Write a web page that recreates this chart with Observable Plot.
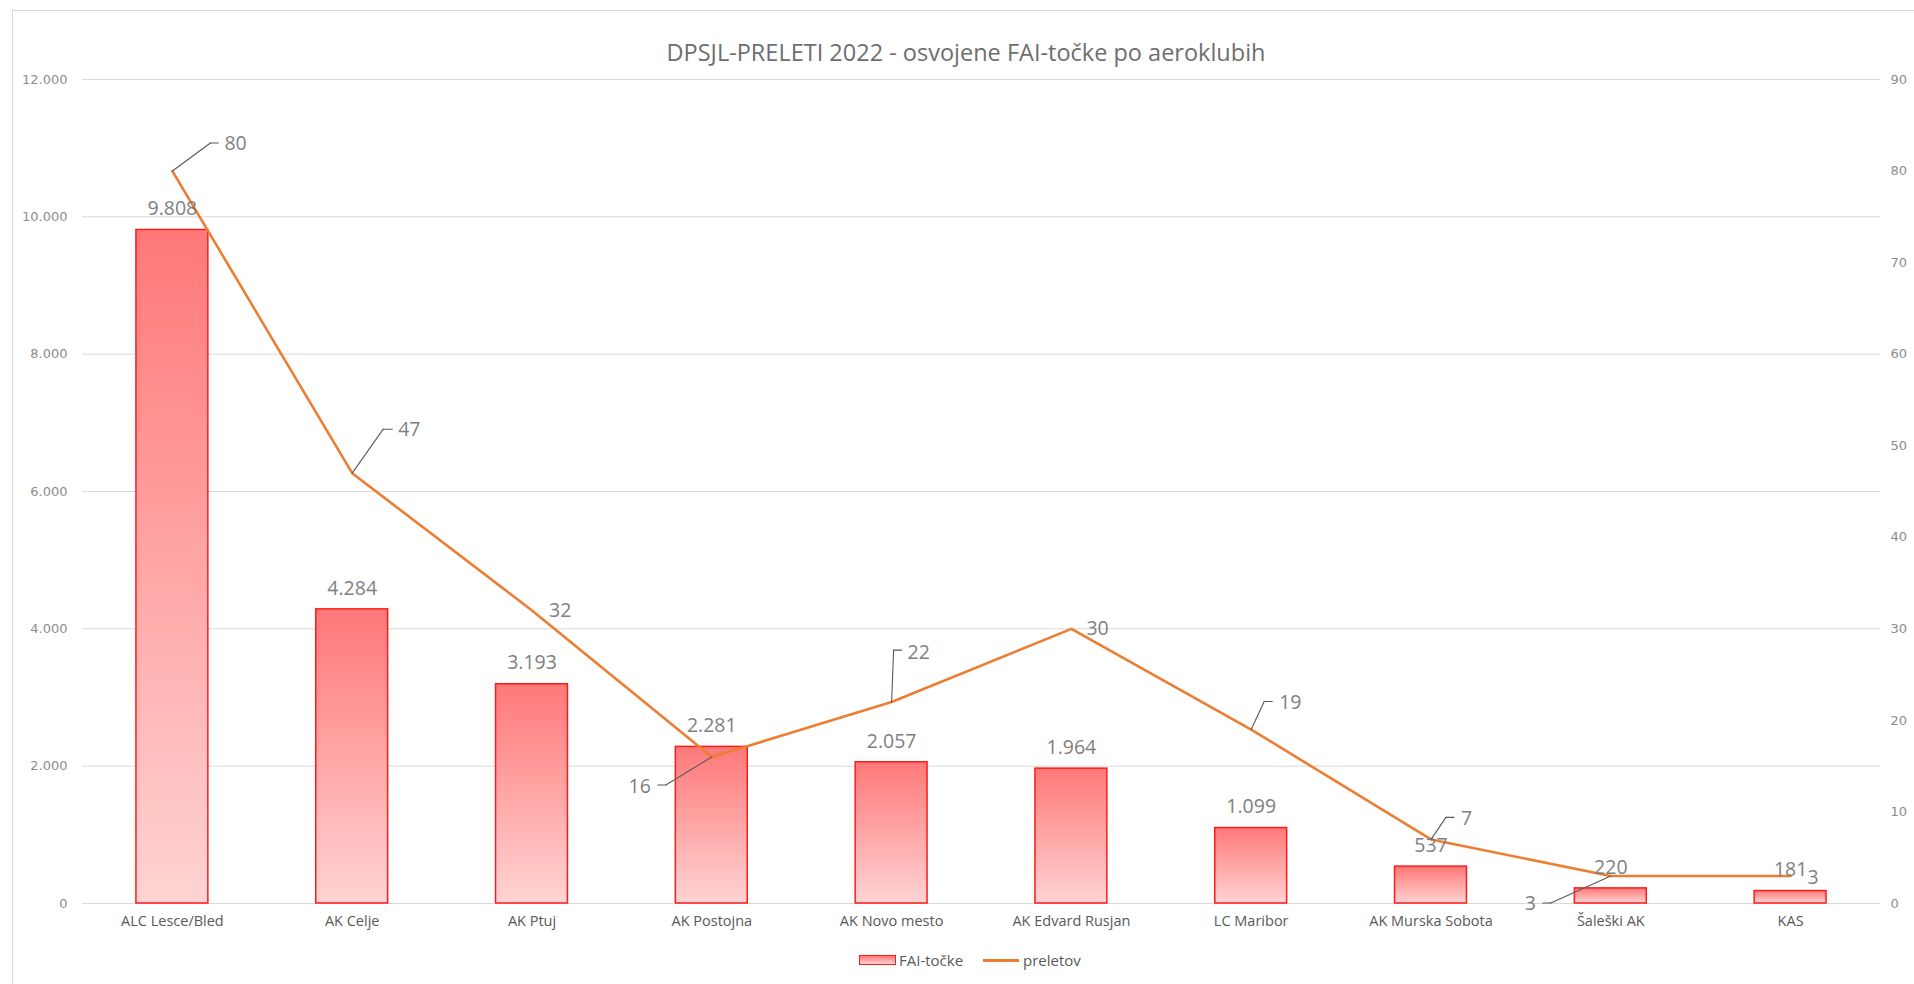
<!DOCTYPE html>
<html>
<head>
<meta charset="utf-8">
<script src="https://cdn.jsdelivr.net/npm/d3@7"></script>
<script src="https://cdn.jsdelivr.net/npm/@observablehq/plot@0.6"></script>
<style>
  html, body { margin: 0; padding: 0; background: #ffffff; }
  #root { position: relative; width: 1914px; height: 984px; overflow: hidden; font-family: "Open Sans", sans-serif; background: #fff; }
  #frame { position: absolute; left: 12px; top: 10px; width: 1910px; height: 980px; border: 1px solid #d9d9d9; box-sizing: border-box; }
  #title { position: absolute; left: 966px; top: 37px; transform: translateX(-50%); font-size: 23.5px; line-height: 30px; color: #6e6e6e; white-space: nowrap; }
  #chart { position: absolute; left: 0; top: 64px; }
  .legtext { position: absolute; top: 950px; line-height: 20px; font-size: 15px; color: #595959; white-space: nowrap; }
  #swBar { position: absolute; left: 859px; top: 955px; width: 37px; height: 10px; box-sizing: border-box; border: 1.5px solid #ff1a1a; background: linear-gradient(#ff7878, #ffd3d3); }
  #swLine { position: absolute; left: 983px; top: 959px; width: 36px; height: 2.5px; background: #ed7d31; }
</style>
</head>
<body>
<div id="root">
  <div id="frame"></div>
  <div id="title">DPSJL-PRELETI 2022 - osvojene FAI-točke po aeroklubih</div>
  <div id="chart"></div>
  <div id="swBar"></div>
  <div class="legtext" id="legA" style="left:899px"></div>
  <div id="swLine"></div>
  <div class="legtext" id="legB" style="left:1023px"></div>
</div>
<script>
// ---- data ----
const categories = ["ALC Lesce/Bled", "AK Celje", "AK Ptuj", "AK Postojna", "AK Novo mesto", "AK Edvard Rusjan", "LC Maribor", "AK Murska Sobota", "Šaleški AK", "KAS"];
const faiTocke = [9808, 4284, 3193, 2281, 2057, 1964, 1099, 537, 220, 181];
const preletov = [80, 47, 32, 16, 22, 30, 19, 7, 3, 3];
const leftTicks = [0, 2000, 4000, 6000, 8000, 10000, 12000];
const rightTicks = [0, 10, 20, 30, 40, 50, 60, 70, 80, 90];
const seriesNames = ["FAI-točke", "preletov"];

// ---- label layout (pixel offsets from each line point) ----
const lineLabelLayout = [
  {dx: 52, dy: -27, anchor: "start", elbow: [38, -28], tail: [46, -28]},
  {dx: 46, dy: -43, anchor: "start", elbow: [31, -44], tail: [40, -44]},
  {dx: 17, dy: 0, anchor: "start"},
  {dx: -61, dy: 30, anchor: "end", elbow: [-46, 28], tail: [-54, 28]},
  {dx: 16, dy: -49, anchor: "start", elbow: [2, -52], tail: [10, -52]},
  {dx: 15, dy: 0, anchor: "start"},
  {dx: 28, dy: -27, anchor: "start", elbow: [13, -28], tail: [21, -28]},
  {dx: 30, dy: -21, anchor: "start", elbow: [15, -22], tail: [23, -22]},
  {dx: -75, dy: 28, anchor: "end", elbow: [-60, 27], tail: [-68, 27]},
  {dx: 17, dy: 2, anchor: "start"}
];

document.getElementById("legA").textContent = seriesNames[0];
document.getElementById("legB").textContent = seriesNames[1];

const rows = categories.map((c, i) => ({club: c, fai: faiTocke[i], flights: preletov[i]}));
const k = leftTicks[leftTicks.length - 1] / rightTicks[rightTicks.length - 1];
const fmt = d3.formatLocale({decimal: ",", thousands: ".", grouping: [3]}).format(",");
const yFlights = d => d.flights * k;

const leaderShape = {draw(context, l) { context.moveTo(0, 0); context.lineTo(0, -l); }};
const leaderStyle = {stroke: "#595959", strokeWidth: 1.1, anchor: "start", shape: leaderShape};

const lineLabelMarks = [];
lineLabelLayout.forEach((o, i) => {
  const d = [rows[i]];
  if (o.elbow) {
    const [ex, ey] = o.elbow;
    const [tx, ty] = o.tail;
    lineLabelMarks.push(Plot.vector(d, {x: "club", y: yFlights, length: Math.hypot(ex, ey), rotate: Math.atan2(ex, -ey) * 180 / Math.PI, ...leaderStyle}));
    lineLabelMarks.push(Plot.vector(d, {x: "club", y: yFlights, dx: ex, dy: ey, length: Math.abs(tx - ex), rotate: tx > ex ? 90 : -90, ...leaderStyle}));
  }
  lineLabelMarks.push(Plot.text(d, {x: "club", y: yFlights, text: r => String(r.flights), dx: o.dx, dy: o.dy, textAnchor: o.anchor, fontSize: 19.5, fontFamily: "Open Sans", fill: "#7f7f7f"}));
});

const svg = Plot.plot({
  width: 1914,
  height: 870,
  marginLeft: 82,
  marginRight: 34,
  marginTop: 15,
  marginBottom: 31,
  style: {fontFamily: "Open Sans", background: "transparent", overflow: "visible"},
  x: {domain: categories, paddingInner: 0.6, paddingOuter: 0.3, round: false},
  y: {domain: [0, 12000]},
  marks: [
    Plot.gridY(leftTicks, {stroke: "#d9d9d9", strokeOpacity: 1, strokeWidth: 1}),
    Plot.barY(rows, {x: "club", y: "fai", fill: "url(#barGrad)", stroke: "#ff1a1a", strokeWidth: 1.5}),
    Plot.line(rows, {x: "club", y: yFlights, stroke: "#ed7d31", strokeWidth: 2.6}),
    Plot.text(rows, {x: "club", y: "fai", text: d => fmt(d.fai), dy: -21, fontSize: 19.5, fontFamily: "Open Sans", fill: "#7f7f7f"}),
    ...lineLabelMarks,
    Plot.axisY(leftTicks, {anchor: "left", tickSize: 0, tickPadding: 15, tickFormat: fmt, label: null, fontFamily: "DejaVu Sans", fontSize: 13, fill: "#8c8c8c"}),
    Plot.axisY(rightTicks.map(v => v * k), {anchor: "right", tickSize: 0, tickPadding: 10, tickFormat: v => String(Math.round(v / k)), label: null, fontFamily: "DejaVu Sans", fontSize: 13, fill: "#8c8c8c"}),
    Plot.axisX({tickSize: 0, tickPadding: 12, label: null, fontFamily: "Open Sans", fontSize: 14.5, fill: "#595959"})
  ]
});

const NS = "http://www.w3.org/2000/svg";
const defs = document.createElementNS(NS, "defs");
const grad = document.createElementNS(NS, "linearGradient");
grad.setAttribute("id", "barGrad");
grad.setAttribute("x1", "0"); grad.setAttribute("y1", "0");
grad.setAttribute("x2", "0"); grad.setAttribute("y2", "1");
[["0", "#ff7878"], ["1", "#ffd3d3"]].forEach(([off, col]) => {
  const s = document.createElementNS(NS, "stop");
  s.setAttribute("offset", off);
  s.setAttribute("stop-color", col);
  grad.appendChild(s);
});
defs.appendChild(grad);
svg.insertBefore(defs, svg.firstChild);

document.getElementById("chart").appendChild(svg);
</script>
</body>
</html>
